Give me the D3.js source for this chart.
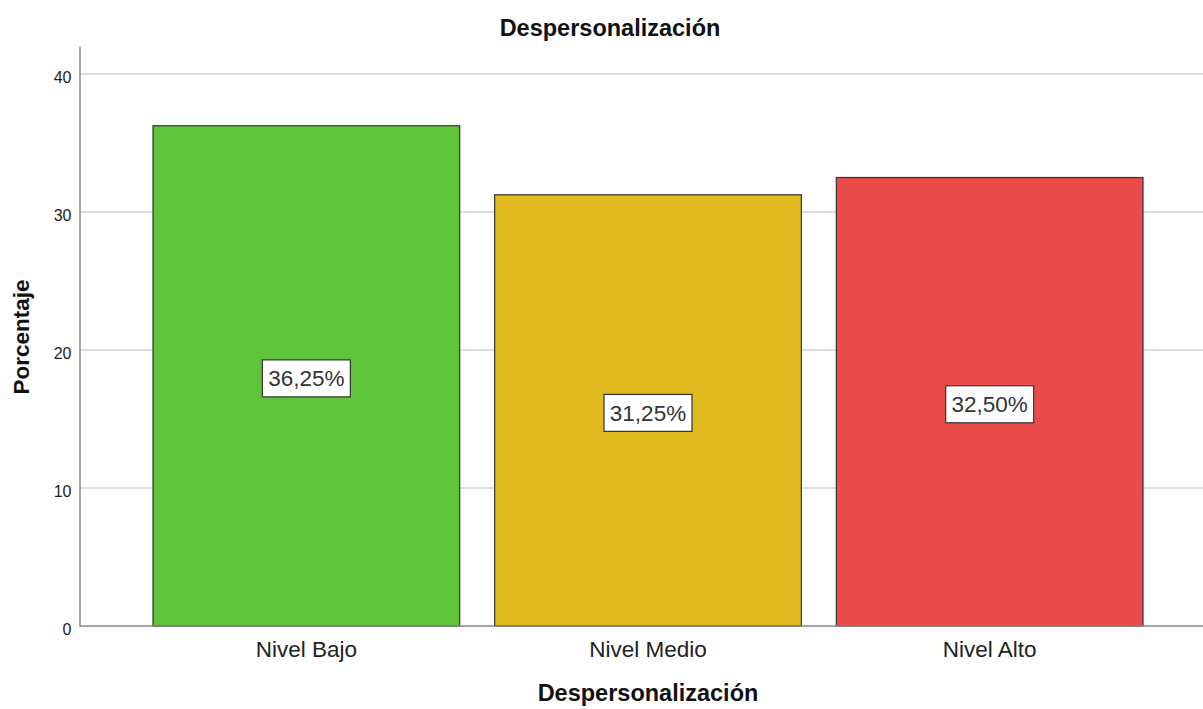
<!DOCTYPE html>
<html>
<head>
<meta charset="utf-8">
<script src="https://cdn.jsdelivr.net/npm/d3@7"></script>
<style>
  html, body { margin: 0; padding: 0; background: #fff; }
  svg { display: block; font-family: "Liberation Sans", Arial, sans-serif; }
</style>
</head>
<body>
<svg id="chart" width="1203" height="709"></svg>
<script>
const categories = ["Nivel Bajo", "Nivel Medio", "Nivel Alto"];
const values = [36.25, 31.25, 32.50];
const valueLabels = ["36,25%", "31,25%", "32,50%"];
const colors = ["#5ec43a", "#dfbb20", "#ea4b4b"];
const yTicks = [0, 10, 20, 30, 40];

const svg = d3.select("#chart");
const W = 1203;
const axisX = 79.5, baseY = 626, topY = 46;
const FONT = "'Liberation Sans', Arial, sans-serif";

const y = d3.scaleLinear().domain([0, 42.03]).range([baseY, topY]);
const x = d3.scaleBand().domain(categories).range([153, 1143]).paddingInner(0.1024).paddingOuter(0);

// grid lines
svg.append("g").selectAll("line").data(yTicks.filter(d => d > 0)).join("line")
  .attr("x1", axisX).attr("x2", W)
  .attr("y1", d => y(d)).attr("y2", d => y(d))
  .attr("stroke", "#d2d2d2").attr("stroke-width", 1.5);

// y axis
const yAxis = svg.append("g").attr("transform", `translate(${axisX},0)`)
  .call(d3.axisLeft(y).tickValues(yTicks).tickSize(0).tickPadding(8));
yAxis.select(".domain").attr("stroke", "#888").attr("stroke-width", 1.5);
yAxis.selectAll("text").attr("font-size", 16).attr("fill", "#222")
  .attr("dy", "0.5em").attr("font-family", FONT);

// bars
svg.append("g").selectAll("rect").data(values).join("rect")
  .attr("x", (d, i) => x(categories[i]))
  .attr("y", d => y(d))
  .attr("width", x.bandwidth())
  .attr("height", d => y(0) - y(d))
  .attr("fill", (d, i) => colors[i])
  .attr("stroke", "#333").attr("stroke-width", 1.2);

// x axis
const xAxis = svg.append("g").attr("transform", `translate(0,${y(0)})`)
  .call(d3.axisBottom(x).tickSize(0).tickPadding(15));
xAxis.select(".domain").remove();
svg.append("line").attr("x1", axisX).attr("x2", W)
  .attr("y1", y(0)).attr("y2", y(0)).attr("stroke", "#888").attr("stroke-width", 1.5);
xAxis.selectAll("text").attr("font-size", 22.5).attr("fill", "#222")
  .attr("font-family", FONT);

// value labels
const lab = svg.append("g").selectAll("g").data(values).join("g")
  .attr("transform", (d, i) => `translate(${x(categories[i]) + x.bandwidth() / 2},${y(d / 2) + 2.5})`);
lab.append("rect").attr("x", -44).attr("y", -18.5).attr("width", 88).attr("height", 37)
  .attr("fill", "#fff").attr("stroke", "#333").attr("stroke-width", 1.2);
lab.append("text").text((d, i) => valueLabels[i])
  .attr("text-anchor", "middle").attr("dy", "0.36em")
  .attr("font-size", 22.5).attr("fill", "#333");

// titles
svg.append("text").attr("x", 610).attr("y", 36).attr("text-anchor", "middle")
  .attr("font-size", 23.5).attr("font-weight", "bold").attr("fill", "#111")
  .text("Despersonalización");
svg.append("text").attr("x", 648).attr("y", 701).attr("text-anchor", "middle")
  .attr("font-size", 23.5).attr("font-weight", "bold").attr("fill", "#111")
  .text("Despersonalización");
svg.append("text").attr("transform", "translate(29,337) rotate(-90)").attr("text-anchor", "middle")
  .attr("font-size", 22.5).attr("font-weight", "bold").attr("fill", "#111")
  .text("Porcentaje");
</script>
</body>
</html>
